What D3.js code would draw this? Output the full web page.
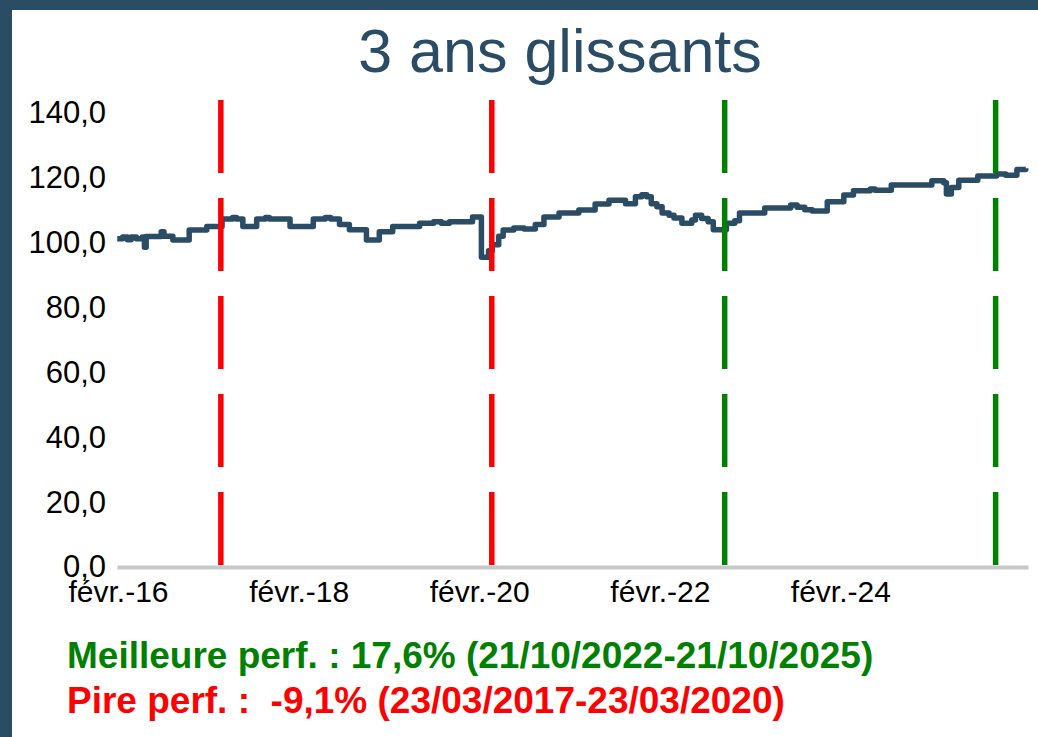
<!DOCTYPE html>
<html>
<head>
<meta charset="utf-8">
<script src="https://cdn.jsdelivr.net/npm/d3@7"></script>
<style>
  body { margin: 0; background: #fff; }
  svg { display: block; font-family: "Liberation Sans", Arial, sans-serif; }
</style>
</head>
<body>
<svg width="1038" height="737"></svg>
<script>
// valeur liquidative (base 100): chaque valeur tient jusqu'à la date suivante
var navDates = ["2016-01-29","2016-02-20","2016-03-10","2016-03-25","2016-04-15","2016-05-10","2016-05-18",
  "2016-05-25","2016-07-25","2016-08-05","2016-09-10","2016-11-15","2017-01-25","2017-03-28","2017-05-10",
  "2017-05-25","2017-06-20","2017-08-15","2017-09-20","2017-10-05","2017-12-28","2018-04-01","2018-05-20",
  "2018-06-10","2018-07-16","2018-08-25","2018-11-02","2018-12-24","2019-02-16","2019-06-05","2019-08-01",
  "2019-09-01","2019-10-04","2020-01-05","2020-02-10","2020-03-10","2020-03-25","2020-04-20","2020-05-08",
  "2020-06-20","2020-08-01","2020-09-15","2020-10-20","2020-12-20","2021-03-10","2021-05-15","2021-07-10",
  "2021-09-15","2021-10-25","2021-11-20","2021-12-10","2021-12-28","2022-01-20","2022-02-10","2022-03-10",
  "2022-03-30","2022-05-01","2022-06-10","2022-06-25","2022-07-20","2022-08-15","2022-09-05","2022-10-28",
  "2022-12-01","2022-12-20","2023-04-01","2023-07-15","2023-08-10","2023-09-10","2023-10-10","2023-12-10",
  "2024-02-15","2024-03-25","2024-06-01","2024-06-20","2024-08-25","2025-02-05","2025-03-25","2025-04-05",
  "2025-04-25","2025-05-25","2025-08-10","2025-10-25","2025-12-01","2026-01-15","2026-02-20"];
var navValues = [101.2,101.8,100.9,101.8,101.2,101.8,98.6,
  101.9,103.4,102.0,100.8,103.9,105.0,107.3,107.8,
  107.3,105.0,107.3,107.8,107.3,105.0,107.3,107.8,
  107.3,105.6,104.0,100.8,103.4,105.0,106.0,106.5,
  106.0,106.5,107.9,95.5,97.5,99.4,102.0,103.9,
  104.5,104.2,105.6,107.9,109.2,110.1,111.9,113.1,
  112.0,114.2,114.8,114.2,112.0,111.1,109.2,108.5,
  107.6,106.0,107.0,108.5,107.5,106.5,104.0,106.0,
  106.8,109.2,110.7,111.6,110.9,110.2,109.8,112.6,
  114.7,116.0,116.6,116.2,117.8,119.1,118.5,115.0,
  117.0,119.3,120.6,121.2,120.8,122.6,123.0];

var worstDates = ["2017-03-23", "2020-03-23"];
var bestDates = ["2022-10-21", "2025-10-21"];
var yTicks = [0, 20, 40, 60, 80, 100, 120, 140];
var xTickDates = ["2016-02-01", "2018-02-01", "2020-02-01", "2022-02-01", "2024-02-01"];

var titleText = "3 ans glissants";
var bestText = "Meilleure perf. : 17,6% (21/10/2022-21/10/2025)";
var worstText = "Pire perf. :  -9,1% (23/03/2017-23/03/2020)";

var parse = d3.timeParse("%Y-%m-%d");
var navy = "#2a4c64";

var fr = d3.formatLocale({decimal: ",", thousands: "\u00a0", grouping: [3], currency: ["", " €"]});
var frTime = d3.timeFormatLocale({
  dateTime: "%A %e %B %Y à %X", date: "%d/%m/%Y", time: "%H:%M:%S", periods: ["AM", "PM"],
  days: ["dimanche","lundi","mardi","mercredi","jeudi","vendredi","samedi"],
  shortDays: ["dim.","lun.","mar.","mer.","jeu.","ven.","sam."],
  months: ["janvier","février","mars","avril","mai","juin","juillet","août","septembre","octobre","novembre","décembre"],
  shortMonths: ["janv.","févr.","mars","avr.","mai","juin","juil.","août","sept.","oct.","nov.","déc."]
});

var data = navDates.map(function(d, i) {
  return {date: parse(d), value: navValues[i]};
});

var svg = d3.select("svg"),
    width = +svg.attr("width"),
    height = +svg.attr("height");

// cadre bleu (haut et gauche)
svg.append("rect").attr("width", width).attr("height", height).attr("fill", navy);
svg.append("rect").attr("x", 12).attr("y", 10).attr("width", width - 12).attr("height", height - 10).attr("fill", "#fff");

var x = d3.scaleTime()
    .domain([parse("2016-01-28"), parse("2026-03-01")])
    .range([117, 1028]);

var y = d3.scaleLinear()
    .domain([0, 140])
    .range([567, 113]);

// titre
svg.append("text")
    .attr("x", 560)
    .attr("y", 72)
    .attr("text-anchor", "middle")
    .attr("fill", navy)
    .style("font-size", "61px")
    .text(titleText);

// axe Y (labels seulement)
var yAxis = svg.append("g")
    .attr("transform", "translate(" + x.range()[0] + ",0)")
    .call(d3.axisLeft(y).tickValues(yTicks).tickSize(0).tickPadding(11).tickFormat(fr.format(".1f")));
yAxis.select(".domain").remove();
yAxis.selectAll("text")
    .attr("fill", "#000")
    .style("font-size", "31px")
    .style("font-family", "'Liberation Sans', Arial, sans-serif");

// axe X
var xAxis = svg.append("g")
    .attr("transform", "translate(0," + y(0) + ")")
    .call(d3.axisBottom(x).tickValues(xTickDates.map(parse)).tickSize(0).tickPadding(14)
      .tickFormat(frTime.format("%b-%y")));
xAxis.select(".domain")
    .attr("stroke", "#c8c8c8")
    .attr("stroke-width", 4);
xAxis.selectAll("text")
    .attr("fill", "#000")
    .style("font-size", "30px")
    .style("font-family", "'Liberation Sans', Arial, sans-serif");

// courbe en paliers
var line = d3.line()
    .curve(d3.curveStepAfter)
    .x(function(d) { return x(d.date); })
    .y(function(d) { return y(d.value); });

svg.append("path")
    .datum(data)
    .attr("fill", "none")
    .attr("stroke", navy)
    .attr("stroke-width", 5.5)
    .attr("stroke-linejoin", "round")
    .attr("d", line);

// lignes verticales pointillées
function markers(dates, color) {
  svg.append("g")
    .selectAll("line")
    .data(dates.map(parse))
    .enter().append("line")
    .attr("x1", function(d) { return x(d); })
    .attr("x2", function(d) { return x(d); })
    .attr("y1", y(144))
    .attr("y2", y(0))
    .attr("stroke", color)
    .attr("stroke-width", 5.5)
    .attr("stroke-dasharray", "73,25");
}
markers(worstDates, "#ff0000");
markers(bestDates, "#008000");

// textes de performance
svg.append("text")
    .attr("x", 67)
    .attr("y", 668)
    .attr("fill", "#008000")
    .style("font-size", "37px")
    .style("font-weight", "bold")
    .style("white-space", "pre")
    .text(bestText);

svg.append("text")
    .attr("x", 67)
    .attr("y", 713)
    .attr("fill", "#ff0000")
    .style("font-size", "37px")
    .style("font-weight", "bold")
    .style("white-space", "pre")
    .text(worstText);
</script>
</body>
</html>
